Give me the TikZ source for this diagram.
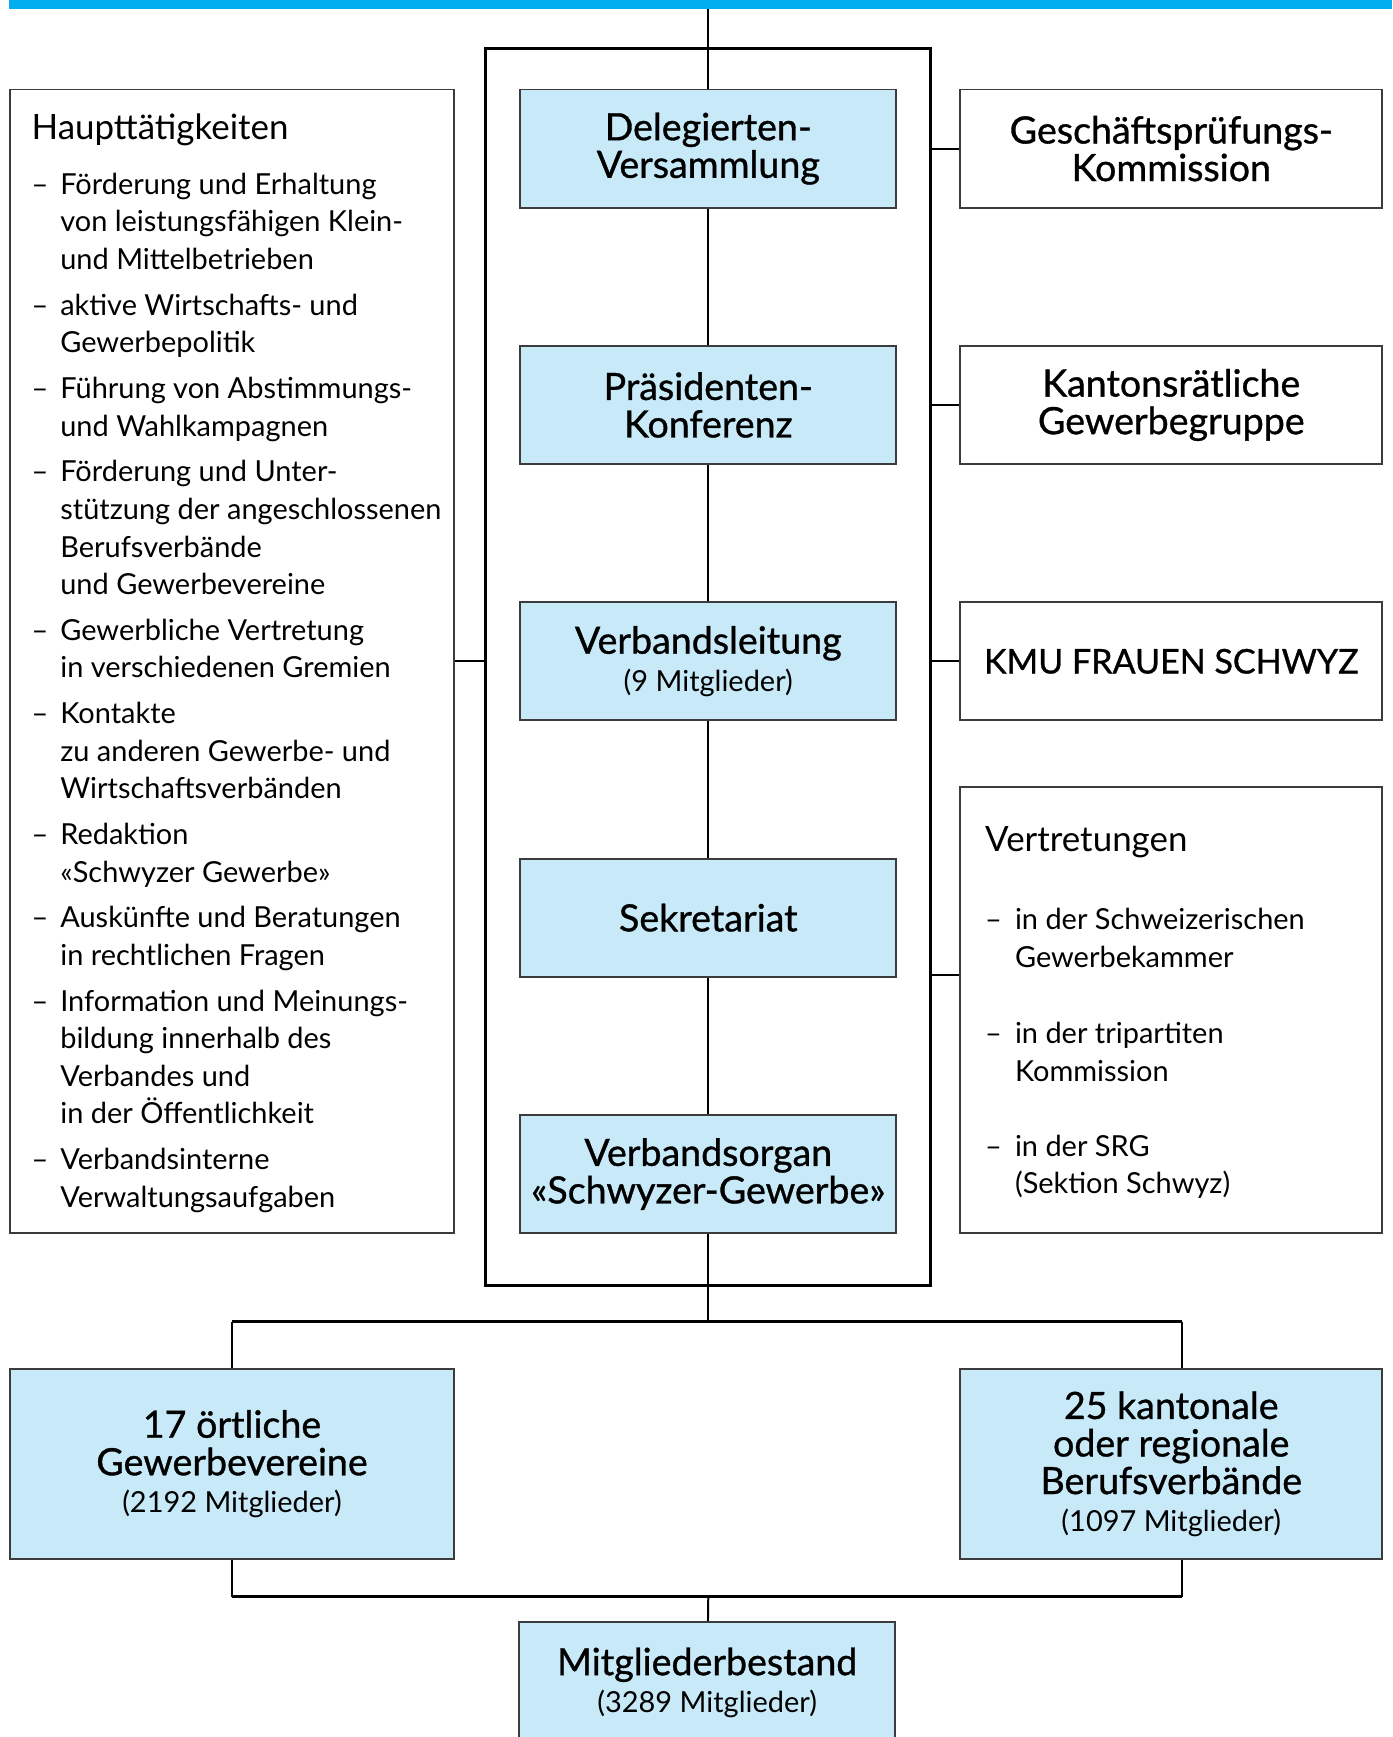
\documentclass[tikz,border=0pt]{standalone}
\usepackage{fontspec}
\setmainfont{Lato}
\newfontfamily\halbfett[FakeBold=0.9]{Lato}
\usepackage{tikz}
\usetikzlibrary{arrows,positioning}
\definecolor{hellblau}{HTML}{C7E9F8}
\definecolor{balkenblau}{HTML}{00AEEF}
\definecolor{randgrau}{HTML}{3C3C3C}
\newcommand{\titel}{\fontsize{17}{17}\selectfont\halbfett}
\newcommand{\kopf}{\fontsize{15.8}{17}\selectfont\normalfont}
\newcommand{\grund}{\fontsize{13.1}{17}\selectfont\normalfont}

\begin{document}
\begin{tikzpicture}[-,x=0.5pt,y=-0.5pt,node distance=116pt,semithick]
  \tikzstyle{organ}=[draw=randgrau,fill=hellblau,line width=0.9pt,minimum width=170pt,minimum height=53.5pt,align=center,font=\titel,inner sep=0pt]
  \tikzstyle{gremium}=[draw=randgrau,line width=0.9pt,minimum width=191pt,minimum height=53.5pt,align=center,font=\titel,inner sep=0pt]
  \tikzstyle{linie}=[draw=black,line width=0.9pt]
  \tikzstyle{dicklinie}=[draw=black,line width=1.5pt]
  \tikzstyle{textblock}=[inner sep=0pt,align=left]

  \clip (0,0) rectangle (1260,1572);
  \fill[balkenblau] (8,0) rectangle (1260,8);
  \coordinate (oben) at (641,8);

  % Rahmen um die Organe
  \node[draw=black,line width=1.3pt,minimum width=201.5pt,minimum height=559.5pt,inner sep=0pt] (rahmen) at (640.5,603.5) {};

  \node[organ] (DV) at (641,134.5) {Delegierten-\\Versammlung};
  \node[organ] (PK) [below of=DV] {Präsidenten-\\Konferenz};
  \node[organ] (VL) [below of=PK] {Verbandsleitung\\{\grund(9 Mitglieder)}};
  \node[organ] (SK) [below of=VL] {Sekretariat};
  \node[organ] (VO) [below of=SK] {Verbandsorgan\\«Schwyzer-Gewerbe»};

  \node[gremium] (GPK) at (1060,134.5) {Geschäftsprüfungs-\\Kommission};
  \node[gremium] (KG) [below of=GPK] {Kantonsrätliche\\Gewerbegruppe};
  \node[gremium,font=\fontsize{15.4}{17}\selectfont\halbfett] (KMU) [below of=KG] {KMU FRAUEN SCHWYZ};
  \node[gremium,minimum height=202pt] (VT) at (1060,914) {};
  \node[textblock,anchor=base west,font=\kopf] (VTtitel) at (891,771) {Vertretungen};
  \node[textblock,anchor=north west,font=\grund] (VTliste) at (891,817) {%
    \begin{tabular}{@{}p{13.5pt}@{}l@{}}
    – & in der Schweizerischen\\
      & Gewerbekammer\\[17.5pt]
    – & in der tripartiten\\
      & Kommission\\[17pt]
    – & in der SRG\\
      & (Sektion Schwyz)
    \end{tabular}};

  \node[gremium,minimum width=201pt,minimum height=517.5pt] (HT) at (210,598.5) {};
  \node[textblock,anchor=base west,font=\kopf] (HTtitel) at (28,126) {Haupttätigkeiten};
  \node[textblock,anchor=north west,font=\grund] (HTliste) at (28,151.5) {%
    \begin{tabular}{@{}p{13pt}@{}l@{}}
    – & Förderung und Erhaltung\\
      & von leistungsfähigen Klein-\\
      & und Mittelbetrieben\\[3.7pt]
    – & aktive Wirtschafts- und\\
      & Gewerbepolitik\\[3.7pt]
    – & Führung von Abstimmungs-\\
      & und Wahlkampagnen\\[3.7pt]
    – & Förderung und Unter-\\
      & stützung der angeschlossenen\\
      & Berufsverbände\\
      & und Gewerbevereine\\[3.7pt]
    – & Gewerbliche Vertretung\\
      & in verschiedenen Gremien\\[3.7pt]
    – & Kontakte\\
      & zu anderen Gewerbe- und\\
      & Wirtschaftsverbänden\\[3.7pt]
    – & Redaktion\\
      & «Schwyzer Gewerbe»\\[3.7pt]
    – & Auskünfte und Beratungen\\
      & in rechtlichen Fragen\\[3.7pt]
    – & Information und Meinungs-\\
      & bildung innerhalb des\\
      & Verbandes und\\
      & in der Öffentlichkeit\\[3.7pt]
    – & Verbandsinterne\\
      & Verwaltungsaufgaben
    \end{tabular}};

  \coordinate (verteiler) at (641,1196);
  \coordinate (vl) at (210,1196);
  \coordinate (vr) at (1070,1196);
  \node[organ,minimum width=201pt,minimum height=86pt] (OGV) at (210,1325) {17 örtliche\\Gewerbevereine\\{\grund(2192 Mitglieder)}};
  \node[organ,minimum width=191pt,minimum height=86pt] (KBV) at (1060,1325) {25 kantonale\\oder regionale\\Berufsverbände\\{\grund(1097 Mitglieder)}};
  \coordinate (sl) at (210,1445);
  \coordinate (sm) at (641,1445);
  \coordinate (sr) at (1070,1445);
  \node[organ,anchor=north,minimum height=55pt] (MB) at (640,1467) {Mitgliederbestand\\{\grund(3289 Mitglieder)}};

  \path[linie] (oben) edge (DV)
               (DV) edge (PK)
               (PK) edge (VL)
               (VL) edge (SK)
               (SK) edge (VO)
               (VO) edge (verteiler)
               (HT) edge (HT -| rahmen.west)
               (GPK) edge (GPK -| rahmen.east)
               (KG) edge (KG -| rahmen.east)
               (KMU) edge (KMU -| rahmen.east)
               ([yshift=16pt]VT.west) edge ([yshift=16pt]VT.west -| rahmen.east)
               (vl) edge (OGV)
               (vr) edge (vr |- KBV.north)
               (OGV) edge (sl)
               (KBV.south -| vr) edge (sr)
               (sm) edge (MB);
  \draw[dicklinie] (vl) -- (vr);
  \draw[dicklinie] (sl) -- (sr);
\end{tikzpicture}
\end{document}
